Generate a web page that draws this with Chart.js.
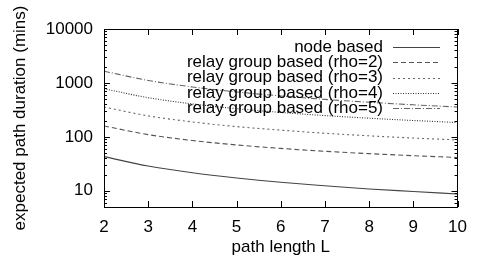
<!DOCTYPE html>
<html>
<head>
<meta charset="utf-8">
<script src="https://cdn.jsdelivr.net/npm/chart.js@4.4.1/dist/chart.umd.min.js"></script>
<style>
  html, body { margin: 0; padding: 0; background: #fff; }
  #wrap { width: 477px; height: 262px; }
</style>
</head>
<body>
<div id="wrap"><canvas id="chart" width="477" height="262"></canvas></div>
<script>
// --- data ---
const pathLength = [2, 3, 4, 5, 6, 7, 8, 9, 10];
const nodeBased = [43.0, 28.7, 21.6, 17.3, 14.4, 12.4, 10.8, 9.7, 8.7];
const rho2 = [159, 110, 85.5, 70.8, 61, 54, 48.8, 44.7, 41.4];
const rho3 = [357, 245, 189, 155, 133, 116.5, 104.5, 95, 87.7];
const rho4 = [781, 532, 408, 333, 284, 248, 221.5, 201, 184];
const rho5 = [1652, 1112, 842, 680, 573, 495, 438, 393, 357];
const yTicks = [10, 100, 1000, 10000];
const xTicks = [2, 3, 4, 5, 6, 7, 8, 9, 10];

const FONT = 'Liberation Sans, Arial, sans-serif';
const FS = 17;

function pts(arr) { return pathLength.map((x, i) => ({ x: x, y: arr[i] })); }

const series = [
  { label: 'node based', data: nodeBased, color: '#444', dash: [] },
  { label: 'relay group based (rho=2)', data: rho2, color: '#555', dash: [5, 3] },
  { label: 'relay group based (rho=3)', data: rho3, color: '#666', dash: [2, 3] },
  { label: 'relay group based (rho=4)', data: rho4, color: '#333', dash: [1, 1.5] },
  { label: 'relay group based (rho=5)', data: rho5, color: '#666', dash: [6, 2, 1, 2] }
];

// box, inward ticks, minor log ticks, and the gnuplot-style legend
const frame = {
  id: 'frame',
  afterDraw(chart) {
    const { ctx, chartArea: a, scales } = chart;
    const xs = scales.x, ys = scales.y;
    ctx.save();
    ctx.strokeStyle = '#000';
    ctx.lineWidth = 1;
    ctx.setLineDash([]);
    ctx.strokeRect(Math.round(a.left) + 0.5, Math.round(a.top) + 0.5,
      Math.round(a.right - a.left) - 1, Math.round(a.bottom - a.top));
    ctx.beginPath();
    xTicks.forEach(v => {
      const px = Math.round(xs.getPixelForValue(v)) + 0.5;
      ctx.moveTo(px, a.bottom); ctx.lineTo(px, a.bottom - 6);
      ctx.moveTo(px, a.top); ctx.lineTo(px, a.top + 6);
    });
    for (let d = 1; d <= 10000; d *= 10) {
      for (let m = 1; m < 10; m++) {
        const v = d * m;
        if (v < ys.min || v > ys.max) continue;
        const len = m === 1 ? 6 : 3;
        const py = Math.round(ys.getPixelForValue(v)) + 0.5;
        ctx.moveTo(a.left, py); ctx.lineTo(a.left + len, py);
        ctx.moveTo(a.right, py); ctx.lineTo(a.right - len, py);
      }
    }
    ctx.stroke();

    // legend
    ctx.font = FS + 'px ' + FONT;
    ctx.textAlign = 'right';
    ctx.textBaseline = 'middle';
    chart.data.datasets.forEach((ds, i) => {
      const y = 47 + i * 15.3;
      ctx.fillStyle = '#000';
      ctx.fillText(ds.label, 383, y);
      ctx.strokeStyle = ds.borderColor;
      ctx.lineWidth = 1;
      ctx.setLineDash(ds.borderDash);
      ctx.beginPath();
      ctx.moveTo(393, Math.round(y) + 0.5);
      ctx.lineTo(440, Math.round(y) + 0.5);
      ctx.stroke();
    });
    ctx.restore();
  }
};

new Chart(document.getElementById('chart'), {
  type: 'line',
  data: {
    datasets: series.map(s => ({
      label: s.label,
      data: pts(s.data),
      borderColor: s.color,
      borderDash: s.dash,
      borderWidth: 1.1,
      pointRadius: 0,
      tension: 0.4,
      cubicInterpolationMode: 'monotone',
      fill: false
    }))
  },
  options: {
    responsive: false,
    animation: false,
    devicePixelRatio: 1,
    layout: { padding: { top: 29, right: 17, left: 0, bottom: 0 } },
    plugins: { legend: { display: false }, tooltip: { enabled: false } },
    scales: {
      x: {
        type: 'linear',
        min: 2, max: 10,
        afterBuildTicks: s => { s.ticks = xTicks.map(v => ({ value: v })); },
        afterFit: s => { s.height = 55; },
        grid: { display: false, drawTicks: false },
        border: { display: false },
        ticks: { color: '#000', padding: 10, font: { family: FONT, size: FS } },
        title: { display: true, text: 'path length L', color: '#000', padding: { top: 2 },
          font: { family: FONT, size: FS } }
      },
      y: {
        type: 'logarithmic',
        min: 5, max: 10000,
        afterBuildTicks: s => { s.ticks = yTicks.map(v => ({ value: v })); },
        afterFit: s => { s.width = 104; },
        grid: { display: false, drawTicks: false },
        border: { display: false },
        ticks: { color: '#000', padding: 11, font: { family: FONT, size: FS },
          callback: v => String(v) },
        title: { display: true, text: 'expected path duration (mins)', color: '#000',
          padding: { bottom: 0, top: 10 }, font: { family: FONT, size: FS } }
      }
    }
  },
  plugins: [frame]
});
</script>
</body>
</html>
